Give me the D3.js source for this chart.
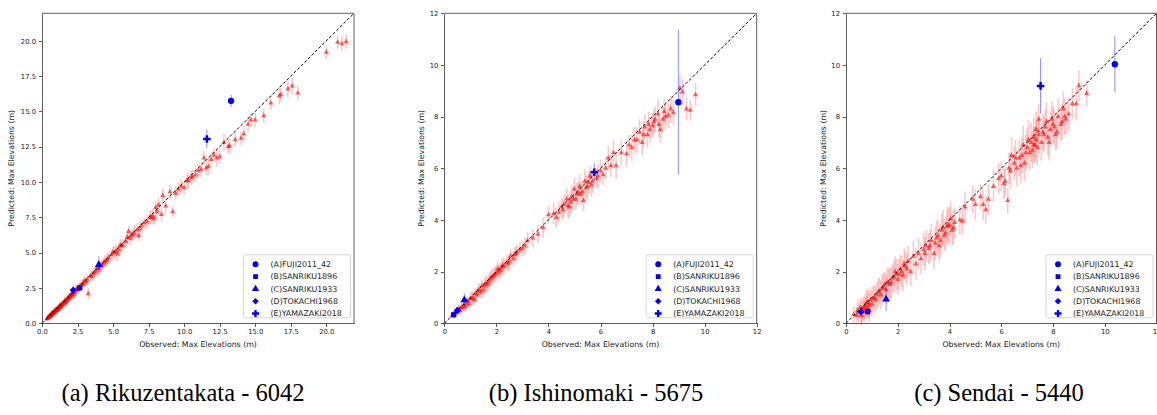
<!DOCTYPE html>
<html>
<head>
    <title>Observed vs predicted max elevations</title>
    <script src="https://d3js.org/d3.v7.min.js"></script>
    <style>
        body { margin: 0; background: #fff; }
        .axis path, .axis line { stroke: #333; stroke-width: 0.8; shape-rendering: crispEdges; }
        .axis text { font-family: "DejaVu Sans", sans-serif; font-size: 6.8px; fill: #222; }
        .label { font-family: "DejaVu Sans", sans-serif; font-size: 7.8px; fill: #222; }
        .legend text { font-family: "DejaVu Sans", sans-serif; font-size: 7.9px; fill: #222; }
        .caption { font-family: "Liberation Serif", "Times New Roman", serif; font-size: 24.5px; fill: #000; }
    </style>
</head>
<body>
<script>
// Tick labels and captions
const rikuTicks = [0, 2.5, 5, 7.5, 10, 12.5, 15, 17.5, 20];
const metreTicks = [0, 2, 4, 6, 8, 10, 12];
const captions = ["(a) Rikuzentakata - 6042", "(b) Ishinomaki - 5675", "(c) Sendai - 5440"];
const eventNames = ["(A)FUJI2011_42", "(B)SANRIKU1896", "(C)SANRIKU1933", "(D)TOKACHI1968", "(E)YAMAZAKI2018"];

// (a) Rikuzentakata: observed, predicted, error
const rikuObs = [0.35,0.4,0.45,0.5,0.55,0.6,0.65,0.7,0.75,0.8,0.85,0.9,0.95,1.0,1.05,1.1,1.15,1.2,1.3,1.35,1.4,1.5,1.55,1.6,1.7,1.75,1.8,1.9,2.0,2.05,2.15,2.3,2.4,2.5,2.6,2.75,2.9,3.0,3.1,3.25,3.4,3.6,3.8,3.9,4.1,4.3,4.5,4.7,4.9,5.0,5.2,5.3,5.5,5.7,5.9,6.0,6.1,6.3,6.5,6.7,6.8,7.0,7.2,7.6,7.8,7.9,8.0,8.1,8.2,8.4,8.5,8.7,9.0,9.2,9.4,9.6,9.8,10.0,10.2,10.5,10.8,11.0,11.4,11.55,11.7,11.9,12.1,12.3,12.5,12.8,13.1,13.2,13.6,14.0,14.2,14.5,14.7,15.0,15.6,16.1,16.7,16.8,17.3,17.6,18.0,20.0,20.8,21.1,21.4,
    0.42,0.52,0.58,0.68,0.72,0.78,0.88,0.92,1.02,1.08,1.18,1.25,1.28,1.45,1.62,1.85,1.95,2.1,2.25,2.45,2.65,2.85,3.2,3.5,3.7,4.0,4.2,4.4,4.6,5.1,5.4,5.6,6.2,6.4,6.9,7.4,7.7,10.3,10.6,11.2];
const rikuPred = [0.3,0.38,0.4,0.5,0.48,0.62,0.55,0.7,0.68,0.75,0.82,0.8,0.95,0.9,1.0,1.05,0.98,1.15,1.2,1.32,1.25,1.45,1.4,1.6,1.55,1.7,1.65,1.85,1.9,2.05,2.0,2.2,2.35,2.45,2.5,2.7,2.8,3.0,2.95,2.1,3.35,3.5,3.7,3.95,4.0,4.2,4.4,4.65,4.85,5.05,5.1,4.9,5.5,5.55,5.8,6.1,6.5,6.2,6.4,6.6,6.2,6.9,7.1,7.5,7.6,7.4,8.2,7.9,8.4,7.7,9.05,8.3,9.3,7.9,9.2,9.5,9.7,9.6,10.1,10.3,10.5,10.8,11.7,11.0,11.1,11.6,11.9,11.7,11.8,12.8,12.5,12.55,13.0,13.1,13.4,14.1,14.4,14.4,14.7,15.6,16.1,16.2,16.6,16.8,16.3,19.2,19.9,19.8,19.95,
    0.4,0.45,0.55,0.6,0.72,0.7,0.8,0.9,0.95,1.0,1.1,1.22,1.15,1.35,1.5,1.8,1.85,2.0,2.1,2.4,2.55,2.75,3.1,3.3,3.6,3.85,4.1,4.35,4.5,5.0,5.2,5.5,6.0,6.3,6.7,7.2,7.5,10.1,10.4,10.9];
const rikuErr = [0.15,0.15,0.15,0.15,0.15,0.2,0.15,0.2,0.2,0.2,0.2,0.2,0.2,0.2,0.2,0.25,0.2,0.25,0.25,0.25,0.25,0.25,0.3,0.3,0.3,0.3,0.3,0.3,0.3,0.3,0.3,0.3,0.35,0.3,0.35,0.35,0.35,0.35,0.3,0.4,0.35,0.4,0.4,0.5,0.4,0.4,0.4,0.45,0.4,0.4,0.45,0.5,0.45,0.4,0.45,0.5,0.4,0.45,0.5,0.5,0.4,0.45,0.4,0.5,0.5,0.45,0.5,0.5,0.5,0.5,0.5,0.45,0.5,0.4,0.5,0.5,0.5,0.5,0.5,0.5,0.5,0.5,0.5,0.5,0.6,0.5,0.5,0.6,0.5,0.6,0.5,0.5,0.5,0.5,0.6,0.5,0.5,0.5,0.5,0.5,0.6,0.5,0.6,0.6,0.5,0.5,0.5,0.5,0.5,
    0.15,0.15,0.15,0.2,0.2,0.2,0.2,0.2,0.2,0.25,0.25,0.25,0.25,0.25,0.3,0.3,0.3,0.3,0.3,0.35,0.35,0.35,0.35,0.4,0.4,0.4,0.4,0.45,0.45,0.45,0.45,0.45,0.5,0.45,0.5,0.5,0.5,0.5,0.5,0.5];
const rikuEvObs = [13.3, 2.65, 4.0, 2.2, 11.6];
const rikuEvPred = [15.75, 2.5, 4.15, 2.35, 13.05];
const rikuEvErr = [0.45, 0.2, 0.6, 0.25, 0.65];

// (b) Ishinomaki
const ishiObs = [0.3,0.35,0.4,0.45,0.5,0.55,0.6,0.7,0.75,0.8,0.9,0.95,1.0,1.1,1.15,1.2,1.3,1.4,1.45,1.5,1.6,1.7,1.8,1.9,2.0,2.05,2.1,2.2,2.3,2.4,2.5,2.55,2.7,2.8,2.9,3.0,3.2,3.6,3.8,4.0,4.2,4.4,4.5,4.6,4.7,4.8,4.9,5.0,5.05,5.1,5.2,5.3,5.35,5.4,5.5,5.6,5.7,5.85,6.0,6.1,6.3,6.5,6.6,6.8,7.0,7.1,7.4,7.5,7.6,7.7,7.8,7.9,8.0,8.1,8.2,8.3,8.4,8.5,8.6,8.8,9.05,9.15,9.3,9.45,9.65,
    0.65,0.85,1.05,1.25,1.35,1.55,1.65,1.75,1.85,1.95,2.15,2.25,2.45,2.65,2.75,3.1,3.4,4.3,4.55,4.75,4.85,4.95,5.15,5.25,5.45,5.55,5.65,5.9,6.2,6.4,7.2,7.3,7.65,7.85,8.05,8.25,8.45,8.7];
const ishiPred = [0.3,0.35,0.4,0.42,0.45,0.55,0.5,0.6,0.7,0.65,0.85,0.75,0.95,1.0,0.9,1.15,1.25,1.2,1.45,1.3,1.55,1.6,1.75,1.85,1.95,2.1,2.0,2.15,2.2,2.35,2.4,2.6,2.65,2.75,2.85,2.9,3.2,3.45,3.7,4.2,4.25,4.3,4.5,4.6,4.8,4.5,4.9,5.2,4.8,5.0,5.3,5.1,4.75,5.5,5.3,5.7,5.5,5.6,5.9,5.75,6.4,6.6,6.1,6.6,6.55,6.9,7.1,7.4,7.0,7.6,7.3,7.5,7.65,7.9,8.1,7.5,7.9,8.0,8.05,8.15,9.1,8.95,8.3,8.25,8.85,
    0.6,0.75,0.95,1.1,1.3,1.45,1.5,1.7,1.8,1.9,2.05,2.25,2.3,2.5,2.7,3.0,3.3,4.1,4.4,4.55,4.7,4.8,5.05,5.0,5.25,5.45,5.35,5.7,6.0,6.1,6.8,7.1,7.3,7.7,7.8,7.7,8.2,8.3];
const ishiErr = [0.1,0.15,0.15,0.15,0.15,0.2,0.2,0.2,0.2,0.2,0.2,0.25,0.25,0.25,0.2,0.25,0.25,0.25,0.25,0.3,0.3,0.3,0.3,0.3,0.3,0.3,0.3,0.3,0.3,0.3,0.3,0.3,0.3,0.3,0.3,0.3,0.35,0.35,0.4,0.35,0.4,0.4,0.4,0.4,0.45,0.45,0.45,0.45,0.4,0.45,0.45,0.45,0.4,0.45,0.45,0.4,0.45,0.4,0.45,0.4,0.45,0.5,0.5,0.5,0.5,0.4,0.5,0.5,0.5,0.5,0.5,0.5,0.5,0.5,0.55,0.5,0.5,0.5,0.5,0.5,0.5,0.5,0.45,0.4,0.45,
    0.2,0.2,0.25,0.25,0.25,0.3,0.3,0.3,0.3,0.3,0.3,0.3,0.3,0.3,0.3,0.35,0.35,0.4,0.4,0.45,0.45,0.45,0.45,0.45,0.45,0.45,0.45,0.45,0.45,0.45,0.5,0.5,0.5,0.5,0.5,0.5,0.5,0.5];
const ishiEvObs = [8.99, 0.36, 0.77, 0.5, 5.76];
const ishiEvPred = [8.56, 0.33, 0.9, 0.5, 5.85];
const ishiEvErr = [2.8, 0.1, 0.25, 0.12, 0.35];

// (c) Sendai
const sendObs = [0.3,0.4,0.5,0.55,0.6,0.65,0.7,0.75,0.8,0.85,0.9,0.95,1.0,1.1,1.2,1.3,1.4,1.5,1.55,1.6,1.7,1.8,1.9,2.0,2.05,2.1,2.2,2.3,2.4,2.5,2.6,2.7,2.8,2.9,3.0,3.1,3.2,3.3,3.4,3.5,3.6,3.7,3.8,3.9,4.0,4.05,4.1,4.2,4.4,4.5,4.6,4.9,5.0,5.2,5.3,5.4,5.5,5.7,5.9,6.0,6.1,6.15,6.25,6.3,6.4,6.5,6.6,6.7,6.8,6.9,7.0,7.1,7.15,7.2,7.25,7.3,7.35,7.4,7.45,7.6,7.7,7.8,7.9,8.0,8.1,8.2,8.3,8.4,8.5,8.6,8.75,8.9,9.0,9.3,
    0.45,0.6,0.7,0.8,0.9,1.05,1.15,1.25,1.35,1.45,1.65,1.75,1.85,1.95,2.15,2.25,2.35,3.05,3.25,3.45,3.55,3.65,3.75,3.85,3.95,4.15,6.35,6.55,6.75,6.85,6.95,7.05,7.25,7.35,7.45,7.55,7.65,7.75,7.85,7.95,8.05,8.15,8.35,8.45];
const sendPred = [0.35,0.3,0.4,0.6,0.3,0.55,0.45,0.7,0.6,0.8,0.5,0.9,0.75,1.0,1.1,1.25,1.35,1.5,1.3,1.6,1.5,1.75,2.0,1.7,1.9,2.1,1.85,2.2,2.4,2.0,2.6,2.3,2.7,2.5,2.85,3.0,2.9,3.2,2.7,3.3,3.0,3.6,3.4,3.75,3.8,4.05,3.6,3.9,4.0,3.95,4.5,4.8,4.6,4.9,4.6,4.4,4.8,5.3,5.6,5.7,5.4,5.5,4.75,6.0,6.5,6.2,6.0,6.4,6.5,6.2,6.8,6.6,7.0,6.7,7.2,6.9,7.5,6.8,7.9,7.4,7.6,7.2,7.5,7.7,7.3,8.0,7.7,8.3,7.9,8.1,8.5,8.5,9.2,8.9,
    0.5,0.45,0.6,0.8,0.7,0.95,0.9,1.2,1.1,1.4,1.55,1.6,1.8,1.9,2.0,2.3,2.1,2.7,3.0,3.1,3.4,3.2,3.7,3.5,3.8,3.7,5.9,6.4,6.1,6.9,6.6,7.1,6.9,7.1,7.3,7.0,7.3,7.8,7.0,7.9,7.6,7.4,7.8,8.0];
const sendErr = [0.3,0.35,0.4,0.4,0.4,0.45,0.4,0.45,0.45,0.5,0.45,0.5,0.5,0.5,0.5,0.5,0.55,0.5,0.55,0.55,0.6,0.55,0.6,0.6,0.6,0.55,0.6,0.6,0.6,0.55,0.6,0.6,0.6,0.6,0.65,0.6,0.6,0.65,0.6,0.65,0.6,0.65,0.6,0.65,0.7,0.65,0.6,0.6,0.55,0.5,0.6,0.55,0.6,0.5,0.6,0.55,0.6,0.6,0.6,0.6,0.6,0.6,0.5,0.6,0.7,0.65,0.7,0.7,0.7,0.7,0.75,0.7,0.75,0.7,0.75,0.7,0.7,0.7,0.6,0.7,0.7,0.7,0.7,0.7,0.6,0.7,0.65,0.7,0.6,0.65,0.6,0.65,0.6,0.5,
    0.4,0.45,0.45,0.5,0.5,0.5,0.5,0.55,0.55,0.55,0.6,0.6,0.6,0.6,0.6,0.6,0.6,0.65,0.65,0.65,0.65,0.65,0.7,0.65,0.7,0.65,0.7,0.7,0.7,0.75,0.7,0.75,0.7,0.75,0.7,0.7,0.7,0.75,0.7,0.7,0.7,0.65,0.7,0.7];
const sendEvObs = [10.39, 0.84, 1.55, 0.58, 7.52];
const sendEvPred = [10.03, 0.45, 0.93, 0.45, 9.19];
const sendEvErr = [1.08, 0.15, 0.45, 0.15, 1.07];

const width = 1157, height = 415;
const svg = d3.select("body").append("svg")
    .attr("width", width)
    .attr("height", height);

const symbolFor = [d3.symbolCircle, d3.symbolSquare, d3.symbolTriangle, d3.symbolSquare, d3.symbolCross];
const symbolSize = [32, 27, 27, 25, 32];
const symbolRot = [0, 0, 0, 45, 0];

const panels = [
    { left: 42, right: 354, max: 21.95, ticks: rikuTicks, fmt: d3.format(".1f"), ylabDx: 31, capX: 183,
      obs: rikuObs, pred: rikuPred, err: rikuErr, evObs: rikuEvObs, evPred: rikuEvPred, evErr: rikuEvErr },
    { left: 444.3, right: 756.7, max: 12, ticks: metreTicks, fmt: d3.format("d"), ylabDx: 22.7, capX: 596,
      obs: ishiObs, pred: ishiPred, err: ishiErr, evObs: ishiEvObs, evPred: ishiEvPred, evErr: ishiEvErr },
    { left: 846, right: 1156.5, max: 12, ticks: metreTicks, fmt: d3.format("d"), ylabDx: 22.7, capX: 999,
      obs: sendObs, pred: sendPred, err: sendErr, evObs: sendEvObs, evPred: sendEvPred, evErr: sendEvErr }
];
const plotTop = 13.3, plotBottom = 323.3;

panels.forEach((p, pi) => {
    const x = d3.scaleLinear().domain([0, p.max]).range([p.left, p.right]);
    const y = d3.scaleLinear().domain([0, p.max]).range([plotBottom, plotTop]);
    const g = svg.append("g");

    const pts = p.obs.map((o, i) => ({ o: o, p: p.pred[i], e: p.err[i] }));

    // error bars then markers for the sites
    g.append("g").selectAll("line")
        .data(pts).enter().append("line")
        .attr("x1", d => x(d.o)).attr("x2", d => x(d.o))
        .attr("y1", d => y(d.p - d.e)).attr("y2", d => y(d.p + d.e))
        .attr("stroke", "#ff0000").attr("stroke-opacity", 0.22).attr("stroke-width", 1.6);
    g.append("g").selectAll("path")
        .data(pts).enter().append("path")
        .attr("d", d3.symbol(d3.symbolTriangle, 12))
        .attr("transform", d => `translate(${x(d.o)},${y(d.p)})`)
        .attr("fill", "#ff0000").attr("fill-opacity", 0.6);

    // 1:1 line
    g.append("line")
        .attr("x1", x(0)).attr("y1", y(0))
        .attr("x2", x(p.max)).attr("y2", y(p.max))
        .attr("stroke", "#000").attr("stroke-width", 1).attr("stroke-dasharray", "3,2");

    // events
    const ev = p.evObs.map((o, i) => ({ o: o, p: p.evPred[i], e: p.evErr[i], k: i }));
    g.append("g").selectAll("line")
        .data(ev).enter().append("line")
        .attr("x1", d => x(d.o)).attr("x2", d => x(d.o))
        .attr("y1", d => y(d.p - d.e)).attr("y2", d => y(d.p + d.e))
        .attr("stroke", "#0000ff").attr("stroke-opacity", 0.45).attr("stroke-width", 1);
    g.append("g").selectAll("path")
        .data(ev).enter().append("path")
        .attr("d", d => d3.symbol(symbolFor[d.k], symbolSize[d.k])())
        .attr("transform", d => `translate(${x(d.o)},${y(d.p)}) rotate(${symbolRot[d.k]})`)
        .attr("fill", "#0000ff");

    // axes
    g.append("g").attr("class", "axis")
        .attr("transform", `translate(0,${plotBottom})`)
        .call(d3.axisBottom(x).tickValues(p.ticks).tickFormat(p.fmt).tickSize(3.5).tickPadding(2.5).tickSizeOuter(0));
    g.append("g").attr("class", "axis")
        .attr("transform", `translate(${p.left},0)`)
        .call(d3.axisLeft(y).tickValues(p.ticks).tickFormat(p.fmt).tickSize(3.5).tickPadding(2.5).tickSizeOuter(0));
    g.append("path")
        .attr("d", `M${p.left},${plotTop}H${p.right}V${plotBottom}`)
        .attr("fill", "none").attr("stroke", "#333").attr("stroke-width", 0.8);

    const cx = (p.left + p.right) / 2;
    g.append("text").attr("class", "label")
        .attr("x", cx).attr("y", 347)
        .attr("text-anchor", "middle")
        .text("Observed: Max Elevations (m)");
    g.append("text").attr("class", "label")
        .attr("transform", `translate(${p.left - p.ylabDx},${(plotTop + plotBottom) / 2}) rotate(-90)`)
        .attr("text-anchor", "middle").attr("dy", "0.35em")
        .text("Predicted: Max Elevations (m)");

    // legend
    const lw = 107, lh = 63;
    const lx = p.right - 3.5 - lw, ly = plotBottom - 5.5 - lh;
    const leg = g.append("g").attr("class", "legend");
    leg.append("rect")
        .attr("x", lx).attr("y", ly).attr("width", lw).attr("height", lh)
        .attr("rx", 2).attr("fill", "#fff").attr("fill-opacity", 0.8)
        .attr("stroke", "#ccc").attr("stroke-width", 0.8);
    eventNames.forEach((name, i) => {
        const ry = ly + 9.5 + i * 12.3;
        leg.append("path")
            .attr("d", d3.symbol(symbolFor[i], symbolSize[i] * 0.85)())
            .attr("transform", `translate(${lx + 12},${ry}) rotate(${symbolRot[i]})`)
            .attr("fill", "#0000ff");
        leg.append("text")
            .attr("x", lx + 27).attr("y", ry).attr("dy", "0.35em")
            .text(name);
    });

    svg.append("text").attr("class", "caption")
        .attr("x", p.capX).attr("y", 401)
        .attr("text-anchor", "middle")
        .text(captions[pi]);
});
</script>
</body>
</html>
